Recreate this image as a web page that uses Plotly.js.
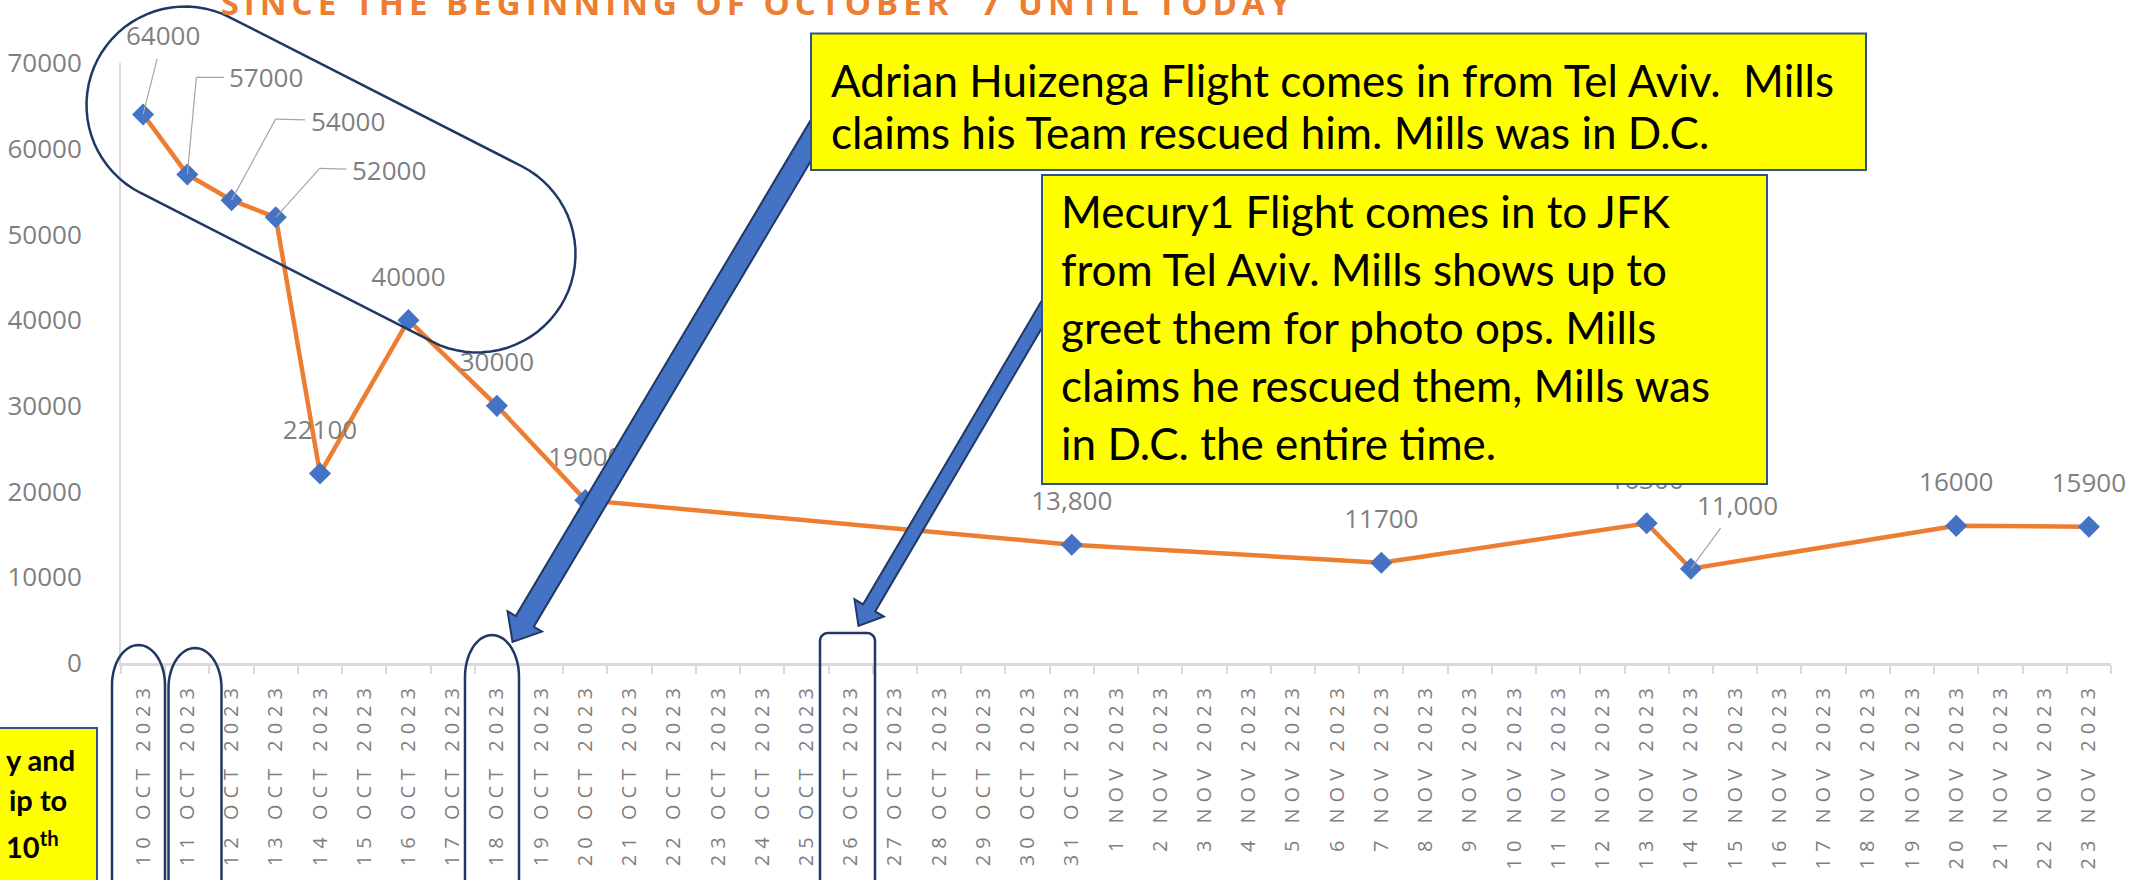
<!DOCTYPE html>
<html>
<head>
<meta charset="utf-8">
<script src="https://cdn.plot.ly/plotly-3.0.1.min.js"></script>
<style>
html,body{margin:0;padding:0;background:#ffffff;}
#chart{width:2156px;height:880px;}
.xtick text{letter-spacing:6px;}
.gtitle{letter-spacing:5px;}
</style>
</head>
<body>
<div id="chart"></div>
<script>
// ---------------- DATA ----------------
const categories = [
  "10 OCT 2023","11 OCT 2023","12 OCT 2023","13 OCT 2023","14 OCT 2023","15 OCT 2023","16 OCT 2023",
  "17 OCT 2023","18 OCT 2023","19 OCT 2023","20 OCT 2023","21 OCT 2023","22 OCT 2023","23 OCT 2023",
  "24 OCT 2023","25 OCT 2023","26 OCT 2023","27 OCT 2023","28 OCT 2023","29 OCT 2023","30 OCT 2023",
  "31 OCT 2023","1 NOV 2023","2 NOV 2023","3 NOV 2023","4 NOV 2023","5 NOV 2023","6 NOV 2023",
  "7 NOV 2023","8 NOV 2023","9 NOV 2023","10 NOV 2023","11 NOV 2023","12 NOV 2023","13 NOV 2023",
  "14 NOV 2023","15 NOV 2023","16 NOV 2023","17 NOV 2023","18 NOV 2023","19 NOV 2023","20 NOV 2023",
  "21 NOV 2023","22 NOV 2023","23 NOV 2023"
];
const values = [
  64000, 57000, 54000, 52000, 22100, null, 40000, null, 30000, null, 19000,
  null, null, null, null, null, null, null, null, null, null,
  13800,
  null, null, null, null, null, null,
  11700,
  null, null, null, null, null,
  16300, 11000,
  null, null, null, null, null,
  16000,
  null, null,
  15900
];
const labelTexts = [
  "64000", "57000", "54000", "52000", "22100", null, "40000", null, "30000", null, "19000",
  null, null, null, null, null, null, null, null, null, null,
  "13,800",
  null, null, null, null, null, null,
  "11700",
  null, null, null, null, null,
  "16300", "11,000",
  null, null, null, null, null,
  "16000",
  null, null,
  "15900"
];
const yTickValues = [0, 10000, 20000, 30000, 40000, 50000, 60000, 70000];
const titleText = "SINCE THE BEGINNING OF OCTOBER\u00a0 7 UNTIL TODAY";
const box1Lines = ["Adrian Huizenga Flight comes in from Tel Aviv.  Mills", "claims his Team rescued him. Mills was in D.C."];
const box2Lines = ["Mecury1 Flight comes in to JFK", "from Tel Aviv. Mills shows up to", "greet them for photo ops. Mills", "claims he rescued them, Mills was", "in D.C. the entire time."];
const box3Lines = ["y and", "ip to", "10<sup>th</sup>"];

// ---------------- LAYOUT / DECORATION SETTINGS ----------------
const plotL = 121, plotT = 63, plotW = 1990, plotH = 600;
const X = px => (px - plotL) / plotW;
const Y = py => (plotT + plotH - py) / plotH;
const grey = '#7F7F7F';
const labelFont = {family: 'Open Sans', size: 26, color: grey};
const boxFont = {family: 'Lato', size: 44, color: '#000000'};
const box3Font = {family: 'Lato', size: 29, color: '#000000', weight: 'bold'};

// label leader lines: offsets in px relative to the data point (y down)
const leaderLayout = {
  "10 OCT 2023": {elbow: null, label: [20, -79]},
  "11 OCT 2023": {elbow: [9, -97], label: [79, -97]},
  "12 OCT 2023": {elbow: [44, -81], label: [116, -79]},
  "13 OCT 2023": {elbow: [44, -49], label: [113, -47]},
  "14 NOV 2023": {elbow: null, label: [47, -64]}
};

function pathFrom(pts, close) {
  return pts.map((p, i) => (i ? 'L' : 'M') + X(p[0]).toFixed(5) + ',' + Y(p[1]).toFixed(5)).join(' ') + (close ? ' Z' : '');
}
function stadium(c1, c2, r) {
  const dx = c2[0] - c1[0], dy = c2[1] - c1[1], L = Math.hypot(dx, dy);
  const ux = dx / L, uy = dy / L, nx = -uy, ny = ux;
  const pts = [];
  for (let a = -90; a <= 90; a += 5) {
    const t = a * Math.PI / 180;
    pts.push([c2[0] + r * (Math.cos(t) * ux + Math.sin(t) * nx), c2[1] + r * (Math.cos(t) * uy + Math.sin(t) * ny)]);
  }
  for (let a = 90; a <= 270; a += 5) {
    const t = a * Math.PI / 180;
    pts.push([c1[0] + r * (Math.cos(t) * ux + Math.sin(t) * nx), c1[1] + r * (Math.cos(t) * uy + Math.sin(t) * ny)]);
  }
  return pts;
}
function tallOval(xc, top, w, capH, bottom) {
  const pts = [[xc - w, bottom]];
  for (let a = 180; a <= 360; a += 6) {
    const t = a * Math.PI / 180;
    pts.push([xc + w * Math.cos(t), top + capH + capH * Math.sin(t)]);
  }
  pts.push([xc + w, bottom]);
  return pts;
}
function roundRect(x0, y0, x1, y1, r) {
  const pts = [[x0, y1]];
  for (let a = 180; a <= 270; a += 10) { const t = a * Math.PI / 180; pts.push([x0 + r + r * Math.cos(t), y0 + r + r * Math.sin(t)]); }
  for (let a = 270; a <= 360; a += 10) { const t = a * Math.PI / 180; pts.push([x1 - r + r * Math.cos(t), y0 + r + r * Math.sin(t)]); }
  pts.push([x1, y1]);
  return pts;
}
function blockArrow(tail, tip, w, hw, hl) {
  const dx = tip[0] - tail[0], dy = tip[1] - tail[1], L = Math.hypot(dx, dy);
  const ux = dx / L, uy = dy / L, nx = -uy, ny = ux;
  const bx = tip[0] - ux * hl, by = tip[1] - uy * hl;
  return [
    [tail[0] + nx * w / 2, tail[1] + ny * w / 2],
    [bx + nx * w / 2, by + ny * w / 2],
    [bx + nx * hw / 2, by + ny * hw / 2],
    tip,
    [bx - nx * hw / 2, by - ny * hw / 2],
    [bx - nx * w / 2, by - ny * w / 2],
    [tail[0] - nx * w / 2, tail[1] - ny * w / 2]
  ];
}

const navy = '#1F3864';
const shapes = [];
// leader elbow segments, anchored on the data points (pixel offsets)
categories.forEach((c, i) => {
  const lay = leaderLayout[c];
  if (!lay || !lay.elbow || values[i] == null) return;
  shapes.push({type: 'line', xref: 'x', yref: 'y', xsizemode: 'pixel', ysizemode: 'pixel', xanchor: c, yanchor: values[i],
    x0: 0, y0: 0, x1: lay.elbow[0], y1: -lay.elbow[1], line: {color: '#A6A6A6', width: 1.2}, layer: 'above'});
});
shapes.push(
  {type: 'path', xref: 'paper', yref: 'paper', path: pathFrom(stadium([185, 105], [477, 254], 98.5), true), line: {color: navy, width: 2.5}, fillcolor: 'rgba(0,0,0,0)', layer: 'above'},
  {type: 'path', xref: 'paper', yref: 'paper', path: pathFrom(tallOval(138.5, 645, 26.5, 40, 905), false), line: {color: navy, width: 2.5}, fillcolor: 'rgba(0,0,0,0)', layer: 'above'},
  {type: 'path', xref: 'paper', yref: 'paper', path: pathFrom(tallOval(195, 648, 26.5, 40, 905), false), line: {color: navy, width: 2.5}, fillcolor: 'rgba(0,0,0,0)', layer: 'above'},
  {type: 'path', xref: 'paper', yref: 'paper', path: pathFrom(tallOval(492, 635, 27, 42, 905), false), line: {color: navy, width: 2.5}, fillcolor: 'rgba(0,0,0,0)', layer: 'above'},
  {type: 'path', xref: 'paper', yref: 'paper', path: pathFrom(roundRect(820, 633, 875, 905, 8), false), line: {color: navy, width: 2.5}, fillcolor: 'rgba(0,0,0,0)', layer: 'above'},
  {type: 'path', xref: 'paper', yref: 'paper', path: pathFrom(blockArrow([829, 110], [512.5, 642], 21, 40, 24), true), line: {color: '#203864', width: 2}, fillcolor: '#4472C4', layer: 'above'},
  {type: 'path', xref: 'paper', yref: 'paper', path: pathFrom(blockArrow([1062, 280], [858.5, 626], 14, 34, 21), true), line: {color: '#203864', width: 2}, fillcolor: '#4472C4', layer: 'above'},
  {type: 'rect', xref: 'paper', yref: 'paper', x0: X(811), x1: X(1866), y0: Y(33.5), y1: Y(170), fillcolor: '#FFFF00', line: {color: '#2F528F', width: 2}, layer: 'above'},
  {type: 'rect', xref: 'paper', yref: 'paper', x0: X(1042), x1: X(1767), y0: Y(175), y1: Y(484), fillcolor: '#FFFF00', line: {color: '#2F528F', width: 2}, layer: 'above'},
  {type: 'rect', xref: 'paper', yref: 'paper', x0: X(-20), x1: X(97), y0: Y(728), y1: Y(900), fillcolor: '#FFFF00', line: {color: '#2F528F', width: 2}, layer: 'above'}
);

// ---------------- ANNOTATIONS ----------------
const annotations = [];
categories.forEach((c, i) => {
  const lay = leaderLayout[c];
  if (!lay || values[i] == null) return;
  const e = lay.elbow || [0, 0];
  annotations.push({x: c, y: values[i], xref: 'x', yref: 'y', text: labelTexts[i], font: labelFont,
    showarrow: true, arrowhead: 0, arrowwidth: 1.2, arrowcolor: '#A6A6A6', standoff: 0, startstandoff: 0,
    borderpad: 5, xshift: e[0], yshift: -e[1], ax: lay.label[0] - e[0], ay: lay.label[1] - e[1]});
});
const box1Y = [80, 132];
const box2Y = [211, 269, 327, 385, 443];
box1Lines.forEach((t, k) => annotations.push({text: t, xref: 'paper', yref: 'paper', x: X(830), y: Y(box1Y[k]),
  xanchor: 'left', yanchor: 'middle', showarrow: false, font: boxFont, borderpad: 0}));
box2Lines.forEach((t, k) => annotations.push({text: t, xref: 'paper', yref: 'paper', x: X(1060), y: Y(box2Y[k]),
  xanchor: 'left', yanchor: 'middle', showarrow: false, font: boxFont, borderpad: 0}));
const box3X = [76, 68, 60];
const box3Y = [759, 799, 845];
box3Lines.forEach((t, k) => annotations.push({text: t, xref: 'paper', yref: 'paper', x: X(box3X[k]), y: Y(box3Y[k]),
  xanchor: 'right', yanchor: 'middle', showarrow: false, font: box3Font, borderpad: 0}));

// ---------------- TRACES ----------------
const lineTrace = {
  x: categories, y: values, type: 'scatter', mode: 'lines+markers', connectgaps: true,
  line: {color: '#ED7D31', width: 4.5},
  marker: {symbol: 'diamond', size: 17, color: '#4472C4', line: {width: 0}},
  cliponaxis: false, hoverinfo: 'skip', showlegend: false
};
const lx = [], ly = [], lt = [];
categories.forEach((c, i) => {
  if (values[i] != null && !leaderLayout[c]) { lx.push(c); ly.push(values[i]); lt.push(labelTexts[i]); }
});
const labelTrace = {
  x: lx, y: ly, text: lt, type: 'scatter', mode: 'markers+text', textposition: 'top center',
  marker: {size: 43, opacity: 0}, textfont: labelFont, cliponaxis: false, hoverinfo: 'skip', showlegend: false
};

const layout = {
  width: 2156, height: 880,
  margin: {l: plotL, r: 2156 - plotL - plotW, t: plotT, b: 880 - plotT - plotH, pad: 0},
  paper_bgcolor: '#ffffff', plot_bgcolor: '#ffffff',
  showlegend: false, hovermode: false,
  title: {text: titleText, font: {family: 'Open Sans', size: 33, color: '#ED7D31', weight: 'bold'},
          x: 758 / 2156, xref: 'container', xanchor: 'center', y: 1 - 15 / 880, yref: 'container', yanchor: 'bottom'},
  xaxis: {
    type: 'category', categoryorder: 'array', categoryarray: categories, range: [-0.5, categories.length - 0.5],
    tickangle: -90, tickfont: {family: 'Open Sans', size: 20, color: grey},
    ticks: 'outside', tickson: 'boundaries', ticklen: 8, tickwidth: 2, tickcolor: '#D9D9D9',
    showline: true, linecolor: '#D9D9D9', linewidth: 3, showgrid: false, zeroline: false,
    ticklabelstandoff: 8, automargin: false
  },
  yaxis: {
    range: [0, 70000], tickvals: yTickValues, ticktext: yTickValues.map(String),
    tickfont: {family: 'Open Sans', size: 26, color: grey}, ticks: '',
    showline: true, linecolor: '#D9D9D9', linewidth: 2, showgrid: false, zeroline: false,
    ticklabelstandoff: 32, automargin: false
  },
  shapes: shapes,
  annotations: annotations
};

Plotly.newPlot('chart', [lineTrace, labelTrace], layout, {displayModeBar: false, staticPlot: true});
</script>
</body>
</html>
